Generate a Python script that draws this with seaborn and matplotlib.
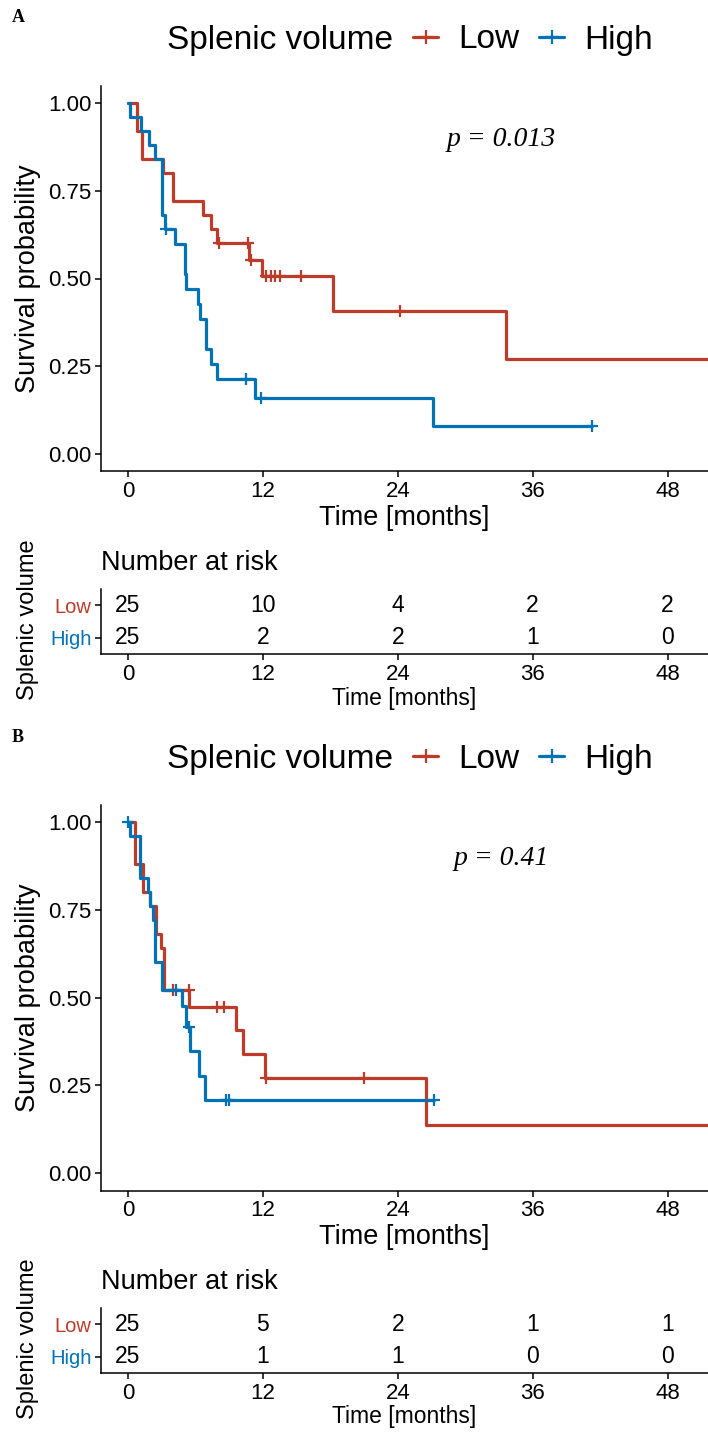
import numpy as np
import pandas as pd
import seaborn as sns
import matplotlib.pyplot as plt
from matplotlib.lines import Line2D

# ============================
# DATA
# ============================
groups = ["Low", "High"]
colors = {"Low": "#BC3C29", "High": "#0072B5"}

# Panel A: step times / survival levels
a_low_t = [0, 0.77, 1.25, 3.15, 4.0, 6.7, 7.4, 7.9, 10.8, 11.9, 18.2, 33.6]
a_low_s = [1.0, 0.92, 0.84, 0.80, 0.72, 0.68, 0.64, 0.60, 0.554, 0.507, 0.406, 0.271]
a_low_end = 52.5
a_low_cens_t = [8.1, 10.7, 10.95, 12.3, 12.7, 13.1, 13.5, 15.4, 24.2]
a_low_cens_s = [0.60, 0.60, 0.554, 0.507, 0.507, 0.507, 0.507, 0.507, 0.406]

a_high_t = [0, 0.2, 1.2, 1.85, 2.4, 3.05, 3.25, 4.2, 5.1, 5.2, 6.2, 6.45, 6.95, 7.4, 7.9, 11.3, 27.1]
a_high_s = [1.0, 0.96, 0.92, 0.88, 0.84, 0.68, 0.64, 0.597, 0.512, 0.469, 0.426, 0.384, 0.299, 0.256, 0.213, 0.16, 0.08]
a_high_end = 41.3
a_high_cens_t = [3.4, 10.46, 11.8, 41.3]
a_high_cens_s = [0.64, 0.213, 0.16, 0.08]

# Panel B
b_low_t = [0, 0.6, 1.35, 2.0, 2.5, 2.9, 3.2, 5.45, 9.6, 10.25, 12.2, 26.5]
b_low_s = [1.0, 0.88, 0.80, 0.76, 0.68, 0.64, 0.52, 0.474, 0.407, 0.339, 0.271, 0.136]
b_low_end = 52.5
b_low_cens_t = [4.0, 5.4, 7.9, 8.5, 12.25, 21.0]
b_low_cens_s = [0.52, 0.52, 0.474, 0.474, 0.271, 0.271]

b_high_t = [0, 0.2, 1.1, 1.8, 1.96, 2.2, 2.4, 3.0, 4.8, 5.2, 5.5, 6.34, 6.85]
b_high_s = [1.0, 0.96, 0.84, 0.80, 0.76, 0.72, 0.60, 0.52, 0.477, 0.415, 0.347, 0.277, 0.208]
b_high_end = 27.2
b_high_cens_t = [0.0, 4.3, 5.4, 8.7, 9.0, 27.2]
b_high_cens_s = [1.0, 0.52, 0.415, 0.208, 0.208, 0.208]

risk_times = [0, 12, 24, 36, 48]
a_risk_low = [25, 10, 4, 2, 2]
a_risk_high = [25, 2, 2, 1, 0]
b_risk_low = [25, 5, 2, 1, 1]
b_risk_high = [25, 1, 1, 0, 0]

p_values = ["p = 0.013", "p = 0.41"]
panel_labels = ["A", "B"]

# ============================
# STYLE
# ============================
sns.set_theme(style="ticks")
plt.rcParams['font.family'] = ['Liberation Sans', 'DejaVu Sans']
plt.rcParams['axes.linewidth'] = 1.1
plt.rcParams['xtick.major.width'] = 1.1
plt.rcParams['ytick.major.width'] = 1.1
plt.rcParams['xtick.major.size'] = 4
plt.rcParams['ytick.major.size'] = 4
plt.rcParams['xtick.color'] = 'black'
plt.rcParams['ytick.color'] = 'black'
plt.rcParams['xtick.labelcolor'] = 'black'
plt.rcParams['ytick.labelcolor'] = 'black'
plt.rcParams['axes.edgecolor'] = 'black'
plt.rcParams['axes.labelcolor'] = 'black'
plt.rcParams['text.color'] = 'black'

W, H = 708, 1432
fig = plt.figure(figsize=(W / 100, H / 100), dpi=100)

XLIM = (-2.4, 51.6)


def step_frame(t, s, end):
    return pd.DataFrame({"time": np.append(t, end), "surv": np.append(s, s[-1])})


def draw_panel(off, curves, risk, pval, label):
    # main KM axes
    ax = fig.add_axes([101 / W, 1 - (471.5 + off) / H, 607 / W, 386 / H])
    for g in groups:
        t, s, end, ct, cs = curves[g]
        df = step_frame(t, s, end)
        sns.lineplot(data=df, x="time", y="surv", drawstyle="steps-post",
                     estimator=None, sort=False, color=colors[g], lw=2.3, ax=ax)
        ax.plot(ct, cs, ls="none", marker="+", ms=9, mew=1.6, color=colors[g])
    ax.set_xlim(*XLIM)
    ax.set_ylim(-0.05, 1.05)
    ax.set_xticks(risk_times)
    ax.set_yticks([0, 0.25, 0.5, 0.75, 1.0])
    ax.set_yticklabels(["0.00", "0.25", "0.50", "0.75", "1.00"])
    ax.tick_params(labelsize=16, pad=3)
    ax.set_xlabel("Time [months]", fontsize=19.5)
    ax.set_ylabel("Survival probability", fontsize=19.5)
    ax.xaxis.set_label_coords(0.5, -(518 - 471.5) / 386)
    ax.xaxis.label.set_va("center")
    ax.yaxis.set_label_coords((28 - 101) / 607, 0.5)
    ax.yaxis.label.set_va("center")
    sns.despine(ax=ax)
    ax.text(33.2, 0.895, pval, ha="center", va="center", fontsize=20,
            fontstyle="italic", family=["Liberation Serif", "DejaVu Serif"])

    # legend on top
    y_leg = 1 - (40 + off) / H
    fig.text(393 / W, y_leg, "Splenic volume", ha="right", va="center", fontsize=24)
    handles = [Line2D([], [], color=colors[g], lw=2.3, marker="+", ms=10, mew=1.6)
               for g in groups]
    fig.legend(handles, groups, ncol=2, loc="center left",
               bbox_to_anchor=(413 / W, y_leg), frameon=False, fontsize=24,
               handlelength=0.75, handletextpad=0.6, columnspacing=0.6,
               borderpad=0, borderaxespad=0)

    fig.text(12 / W, 1 - (18 + off) / H, label, ha="left", va="center",
             fontsize=13, fontweight="bold", family=["Liberation Serif", "DejaVu Serif"])

    # risk table
    rt = fig.add_axes([101 / W, 1 - (654 + off) / H, 607 / W, 65 / H])
    rows = {"Low": 2, "High": 1}
    for g in groups:
        for t, n in zip(risk_times, risk[g]):
            rt.text(t, rows[g], str(n), ha="center", va="center", fontsize=16.5)
    rt.set_xlim(*XLIM)
    rt.set_ylim(0.5, 2.5)
    rt.set_xticks(risk_times)
    rt.set_yticks([2, 1])
    rt.set_yticklabels(["Low", "High"])
    for tl, g in zip(rt.get_yticklabels(), ["Low", "High"]):
        tl.set_color(colors[g])
    rt.tick_params(axis="x", labelsize=16, pad=3)
    rt.tick_params(axis="y", labelsize=14.5, pad=3)
    rt.set_xlabel("Time [months]", fontsize=16.5)
    rt.set_ylabel("Splenic volume", fontsize=17)
    rt.xaxis.set_label_coords(0.5, -(698 - 654) / 65)
    rt.xaxis.label.set_va("center")
    rt.yaxis.set_label_coords((28 - 101) / 607, (654 - 620) / 65)
    rt.yaxis.label.set_va("center")
    rt.set_title("Number at risk", loc="left", fontsize=19.5, pad=14)
    sns.despine(ax=rt)


draw_panel(0,
           {"Low": (a_low_t, a_low_s, a_low_end, a_low_cens_t, a_low_cens_s),
            "High": (a_high_t, a_high_s, a_high_end, a_high_cens_t, a_high_cens_s)},
           {"Low": a_risk_low, "High": a_risk_high}, p_values[0], panel_labels[0])
draw_panel(719,
           {"Low": (b_low_t, b_low_s, b_low_end, b_low_cens_t, b_low_cens_s),
            "High": (b_high_t, b_high_s, b_high_end, b_high_cens_t, b_high_cens_s)},
           {"Low": b_risk_low, "High": b_risk_high}, p_values[1], panel_labels[1])

fig.savefig("out.png", dpi=100)
